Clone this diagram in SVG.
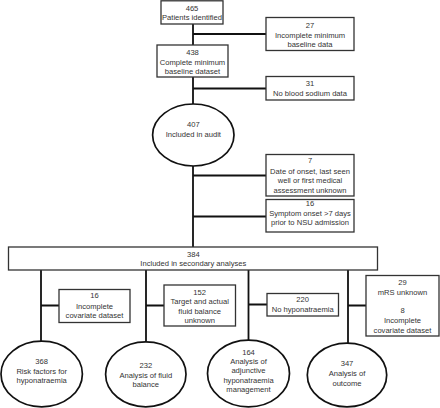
<svg xmlns="http://www.w3.org/2000/svg" width="440" height="408" viewBox="0 0 440 408">
<style>
.box{fill:#fff;stroke:#333;stroke-width:1.3}
.ell{fill:#fff;stroke:#111;stroke-width:1.7}
.con{stroke:#111;stroke-width:1.8;fill:none}
text{font-family:"Liberation Sans",Arial,sans-serif;font-size:7.6px;fill:#333;text-anchor:middle}
</style>
<rect width="440" height="408" fill="#fff"/>
<g id="connectors">
<path class="con" d="M193 24V104M193 166V247M193 34H266M193 88.5H266M193 175.5H266M193 216.5H266"/>
<path class="con" d="M41 270V341M146 270V341.5M248.5 270V340.5M348 270V343M41 305.5H59M146 305.5H164M248.5 304.5H267M348 305.5H366"/>
</g>
<g id="n465"><rect class="box" x="161" y="0.8" width="62" height="23.2"/><text x="192" y="10.5">465</text><text x="192" y="20">Patients identified</text></g>
<g id="n27"><rect class="box" x="266" y="17.5" width="88" height="33"/><text x="310" y="28">27</text><text x="310" y="37.5">Incomplete minimum</text><text x="310" y="46.5">baseline data</text></g>
<g id="n438"><rect class="box" x="157" y="45" width="71" height="32"/><text x="192.5" y="54.7">438</text><text x="192.5" y="64.5">Complete minimum</text><text x="192.5" y="73.7">baseline dataset</text></g>
<g id="n31"><rect class="box" x="266" y="76.5" width="88" height="23.5"/><text x="310" y="85.5">31</text><text x="310" y="95.5">No blood sodium data</text></g>
<g id="n407"><ellipse class="ell" cx="193.3" cy="135" rx="40.7" ry="31"/><text x="193.3" y="126.5">407</text><text x="193.3" y="136.5">Included in audit</text></g>
<g id="n7"><rect class="box" x="266" y="154.5" width="88" height="41.5"/><text x="310" y="162.5">7</text><text x="310" y="173.5">Date of onset, last seen</text><text x="310" y="183">well or first medical</text><text x="310" y="192.5">assessment unknown</text></g>
<g id="n16a"><rect class="box" x="266" y="199.5" width="88" height="32.5"/><text x="310" y="205.5">16</text><text x="310" y="215.5">Symptom onset &gt;7 days</text><text x="310" y="224.5">prior to NSU admission</text></g>
<g id="n384"><rect class="box" x="8.5" y="247" width="369" height="23"/><text x="193.3" y="256.5">384</text><text x="193.3" y="266">Included in secondary analyses</text></g>
<g id="n16b"><rect class="box" x="59" y="289.5" width="71" height="33"/><text x="94.5" y="298">16</text><text x="94.5" y="308.5">Incomplete</text><text x="94.5" y="318">covariate dataset</text></g>
<g id="n152"><rect class="box" x="164" y="285" width="71.5" height="41"/><text x="199.7" y="294.5">152</text><text x="199.7" y="304">Target and actual</text><text x="199.7" y="314">fluid balance</text><text x="199.7" y="323">unknown</text></g>
<g id="n220"><rect class="box" x="267" y="293.5" width="71.5" height="22.5"/><text x="302.7" y="302">220</text><text x="302.7" y="312">No hyponatraemia</text></g>
<g id="n29"><rect class="box" x="366" y="275.5" width="73" height="60.5"/><text x="402.5" y="284.5">29</text><text x="402.5" y="294.5">mRS unknown</text><text x="402.5" y="313">8</text><text x="402.5" y="323">Incomplete</text><text x="402.5" y="332.5">covariate dataset</text></g>
<g id="n368"><ellipse class="ell" cx="41.7" cy="374" rx="40.7" ry="32.8"/><text x="41.7" y="363.5">368</text><text x="41.7" y="373.5">Risk factors for</text><text x="41.7" y="383">hyponatraemia</text></g>
<g id="n232"><ellipse class="ell" cx="145.8" cy="374.3" rx="40.2" ry="32.5"/><text x="145.8" y="368">232</text><text x="145.8" y="377.5">Analysis of fluid</text><text x="145.8" y="387">balance</text></g>
<g id="n164"><ellipse class="ell" cx="248.5" cy="373.5" rx="41" ry="33.3"/><text x="248.5" y="354.5">164</text><text x="248.5" y="364">Analysis of</text><text x="248.5" y="373">adjunctive</text><text x="248.5" y="383">hyponatraemia</text><text x="248.5" y="392">management</text></g>
<g id="n347"><ellipse class="ell" cx="347" cy="375" rx="39.7" ry="31.8"/><text x="347" y="366">347</text><text x="347" y="376">Analysis of</text><text x="347" y="385.5">outcome</text></g>
</svg>
